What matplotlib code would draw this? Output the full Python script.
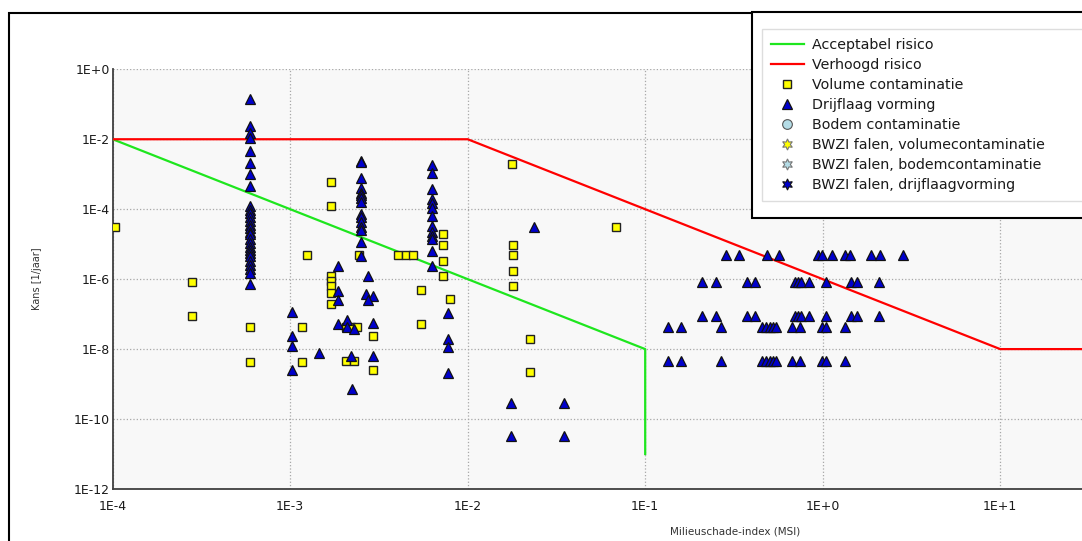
import matplotlib
matplotlib.use("Agg")
import matplotlib.pyplot as plt
from matplotlib.patches import Rectangle
import numpy as np

W, H = 1082, 541

# risk boundaries
accept_x = [1e-4, 1e-1, 1e-1]
accept_y = [1e-2, 1e-8, 1e-11]
raised_x = [1e-4, 1e-2, 1e1, 1e2]
raised_y = [1e-2, 1e-2, 1e-8, 1e-8]

# Volume contaminatie (squares)
vol_x = [1.03e-4, 2.8e-4, 2.8e-4, 5.9e-4, 5.9e-4, 1.16e-3, 1.16e-3, 1.24e-3,
         1.69e-3, 1.69e-3, 1.69e-3, 1.69e-3, 1.69e-3, 1.69e-3, 1.69e-3,
         2.06e-3, 2.2e-3, 2.37e-3, 2.06e-3, 2.3e-3, 2.45e-3, 2.94e-3, 2.94e-3,
         4.07e-3, 4.5e-3, 4.94e-3, 5.46e-3, 5.46e-3,
         7.23e-3, 7.23e-3, 7.23e-3, 7.23e-3, 7.9e-3,
         1.77e-2, 1.79e-2, 1.79e-2, 1.79e-2, 1.79e-2, 2.25e-2, 2.25e-2, 6.85e-2]
vol_y = [3.1e-5, 8.5e-7, 9.1e-8, 4.3e-8, 4.4e-9, 4.3e-8, 4.4e-9, 4.9e-6,
         5.9e-4, 1.2e-4, 1.23e-6, 8.9e-7, 6.3e-7, 4.0e-7, 2.0e-7,
         4.3e-8, 4.3e-8, 4.3e-8, 4.7e-9, 4.7e-9, 4.9e-6, 2.4e-8, 2.6e-9,
         4.9e-6, 4.9e-6, 4.9e-6, 4.8e-7, 5.1e-8,
         1.95e-5, 9.5e-6, 3.4e-6, 1.23e-6, 2.7e-7,
         1.9e-3, 9.5e-6, 4.9e-6, 1.66e-6, 6.2e-7, 2.0e-8, 2.2e-9, 3.1e-5]

# Drijflaag vorming (triangles), column by column
col_6e4_y = [0.139, 0.024, 0.0148, 0.0107, 4.7e-3, 2.1e-3, 1.0e-3, 4.5e-4,
             1.2e-4, 9.5e-5, 7.6e-5, 5.9e-5, 4.5e-5, 3.5e-5, 2.9e-5, 2.3e-5,
             1.9e-5, 1.4e-5, 1.07e-5, 8.5e-6, 6.9e-6, 5.5e-6, 4.5e-6, 3.4e-6,
             2.6e-6, 1.95e-6, 1.5e-6, 7.4e-7]
col_25e4_y = [2.4e-3, 2.2e-3, 7.8e-4, 4.0e-4, 3.0e-4, 2.5e-4, 2.1e-4, 1.66e-4,
              7.2e-5, 5.8e-5, 4.2e-5, 3.2e-5, 2.5e-5, 1.17e-5, 4.5e-6]
col_63e4_y = [1.86e-3, 1.12e-3, 3.7e-4, 1.95e-4, 1.48e-4, 1.07e-4, 6.5e-5,
              3.3e-5, 2.3e-5, 1.74e-5, 1.38e-5, 6.2e-6, 2.3e-6]
other_x = [1.02e-3, 1.02e-3, 1.02e-3, 1.02e-3, 1.46e-3,
           1.87e-3, 1.87e-3, 1.87e-3, 1.87e-3, 2.08e-3, 2.1e-3, 2.3e-3, 2.2e-3, 2.23e-3,
           2.73e-3, 2.67e-3, 2.94e-3, 2.73e-3, 2.91e-3, 2.91e-3,
           7.78e-3, 7.78e-3, 7.78e-3, 7.78e-3,
           2.37e-2, 1.75e-2, 1.75e-2, 3.5e-2, 3.5e-2]
other_y = [1.15e-7, 2.3e-8, 1.26e-8, 2.6e-9, 7.8e-9,
           2.3e-6, 4.5e-7, 2.6e-7, 5.1e-8, 6.9e-8, 4.2e-8, 3.7e-8, 6.2e-9, 7.2e-10,
           1.23e-6, 3.8e-7, 3.3e-7, 2.6e-7, 5.5e-8, 6.2e-9,
           1.07e-7, 1.95e-8, 1.15e-8, 2.1e-9,
           3.0e-5, 2.9e-10, 3.3e-11, 2.9e-10, 3.3e-11]
row_a_x = [0.285, 0.339, 0.484, 0.569, 0.944, 0.987, 1.135, 1.336, 1.426, 1.87, 2.10, 2.84]
row_bc_x = [0.209, 0.251, 0.373, 0.417, 0.701, 0.726, 0.757, 0.840, 1.044, 1.445, 1.556, 2.07]
row_de_x = [0.134, 0.160, 0.267, 0.455, 0.479, 0.504, 0.527, 0.546, 0.669, 0.745, 0.987, 1.044, 1.344]
row_y = {"a": 4.9e-6, "b": 8.1e-7, "c": 9.1e-8, "d": 4.2e-8, "e": 4.7e-9}

drijf_x = ([5.9e-4] * len(col_6e4_y) + [2.5e-3] * len(col_25e4_y)
           + [6.27e-3] * len(col_63e4_y) + other_x
           + row_a_x + row_bc_x + row_bc_x + row_de_x + row_de_x)
drijf_y = (col_6e4_y + col_25e4_y + col_63e4_y + other_y
           + [row_y["a"]] * len(row_a_x) + [row_y["b"]] * len(row_bc_x)
           + [row_y["c"]] * len(row_bc_x) + [row_y["d"]] * len(row_de_x)
           + [row_y["e"]] * len(row_de_x))

xticks = [1e-4, 1e-3, 1e-2, 1e-1, 1e0, 1e1]
xticklabels = ["1E-4", "1E-3", "1E-2", "1E-1", "1E+0", "1E+1"]
yticks = [1e-12, 1e-10, 1e-8, 1e-6, 1e-4, 1e-2, 1e0]
yticklabels = ["1E-12", "1E-10", "1E-8", "1E-6", "1E-4", "1E-2", "1E+0"]

plt.rcParams["font.family"] = ["DejaVu Sans"]

fig = plt.figure(figsize=(W / 100, H / 100), dpi=100)
ax = fig.add_axes([112.7 / W, 1 - 489 / H, 1065 / W, (489 - 69.3) / H])
ax.set_facecolor("#f8f8f8")
ax.set_xscale("log")
ax.set_yscale("log")
ax.set_xlim(1e-4, 1e2)
ax.set_ylim(1e-12, 1e0)

ax.plot(accept_x, accept_y, color="#1ee61e", lw=1.6, label="Acceptabel risico", zorder=3)
ax.plot(raised_x, raised_y, color="#ff0000", lw=1.6, label="Verhoogd risico", zorder=3)
ax.plot(vol_x, vol_y, ls="none", marker="s", ms=6.2, mfc="#ffff00", mec="#222222",
        mew=1.0, label="Volume contaminatie", zorder=4)
ax.plot(drijf_x, drijf_y, ls="none", marker="^", ms=7.5, mfc="#0000cc", mec="#111111",
        mew=0.9, label="Drijflaag vorming", zorder=5)
ax.plot([], [], ls="none", marker="o", ms=7, mfc="#b4dce6", mec="#555555", mew=0.8,
        label="Bodem contaminatie")
ax.plot([], [], ls="none", marker=(6, 1, 0), ms=8, mfc="#ffff00", mec="#777777", mew=0.8,
        label="BWZI falen, volumecontaminatie")
ax.plot([], [], ls="none", marker=(6, 1, 0), ms=8, mfc="#b4dce6", mec="#777777", mew=0.8,
        label="BWZI falen, bodemcontaminatie")
ax.plot([], [], ls="none", marker=(6, 1, 0), ms=8, mfc="#0000cc", mec="#111111", mew=0.8,
        label="BWZI falen, drijflaagvorming")

ax.set_xticks(xticks)
ax.set_xticklabels(xticklabels)
ax.set_yticks(yticks)
ax.set_yticklabels(yticklabels)
ax.minorticks_off()
ax.tick_params(axis="both", length=0, labelsize=9, labelcolor="#1a1a1a")
ax.tick_params(axis="y", pad=2)
ax.tick_params(axis="x", pad=8)
ax.grid(True, which="major", color="#a8a8a8", ls=":", lw=0.9)
# grid line for the last decade (its label lies outside the picture)
ax.axvline(1e2, color="#a8a8a8", ls=":", lw=0.9, zorder=0.5)

for side in ["top", "right"]:
    ax.spines[side].set_visible(False)
for side in ["left", "bottom"]:
    ax.spines[side].set_color("#404040")
    ax.spines[side].set_linewidth(1.3)

fig.text(37 / W, 1 - 279 / H, "Kans [1/jaar]", rotation=90, fontsize=7,
         color="#333333", ha="center", va="center")
fig.text(735 / W, 1 - 532 / H, "Milieuschade-index (MSI)", fontsize=7.5,
         color="#333333", ha="center", va="center")

# outer frame and legend box
fig.add_artist(Rectangle((8.5 / W, -0.1), 1.2, 1.1 - 12.5 / H, transform=fig.transFigure,
                         fill=False, ec="black", lw=1.5, zorder=6))
fig.add_artist(Rectangle((752 / W, 1 - 218 / H), 0.5, (218 - 12.5) / H,
                         transform=fig.transFigure, fc="white", ec="black", lw=1.5, zorder=6))
handles, labels = ax.get_legend_handles_labels()
leg = fig.legend(handles, labels, loc="upper left",
                 bbox_to_anchor=(762 / W, 1 - 29 / H, (1250 - 762) / W, 0),
                 bbox_transform=fig.transFigure, mode="expand", fontsize=10.3,
                 frameon=True, fancybox=False, edgecolor="#dddddd", framealpha=1,
                 handlelength=2.3, handletextpad=0.55, labelspacing=0.42,
                 borderpad=0.62, borderaxespad=0)
leg.get_frame().set_linewidth(1.0)
leg.set_zorder(7)
for t in leg.get_texts():
    t.set_color("#1a1a1a")

fig.savefig("out.png", dpi=100)
